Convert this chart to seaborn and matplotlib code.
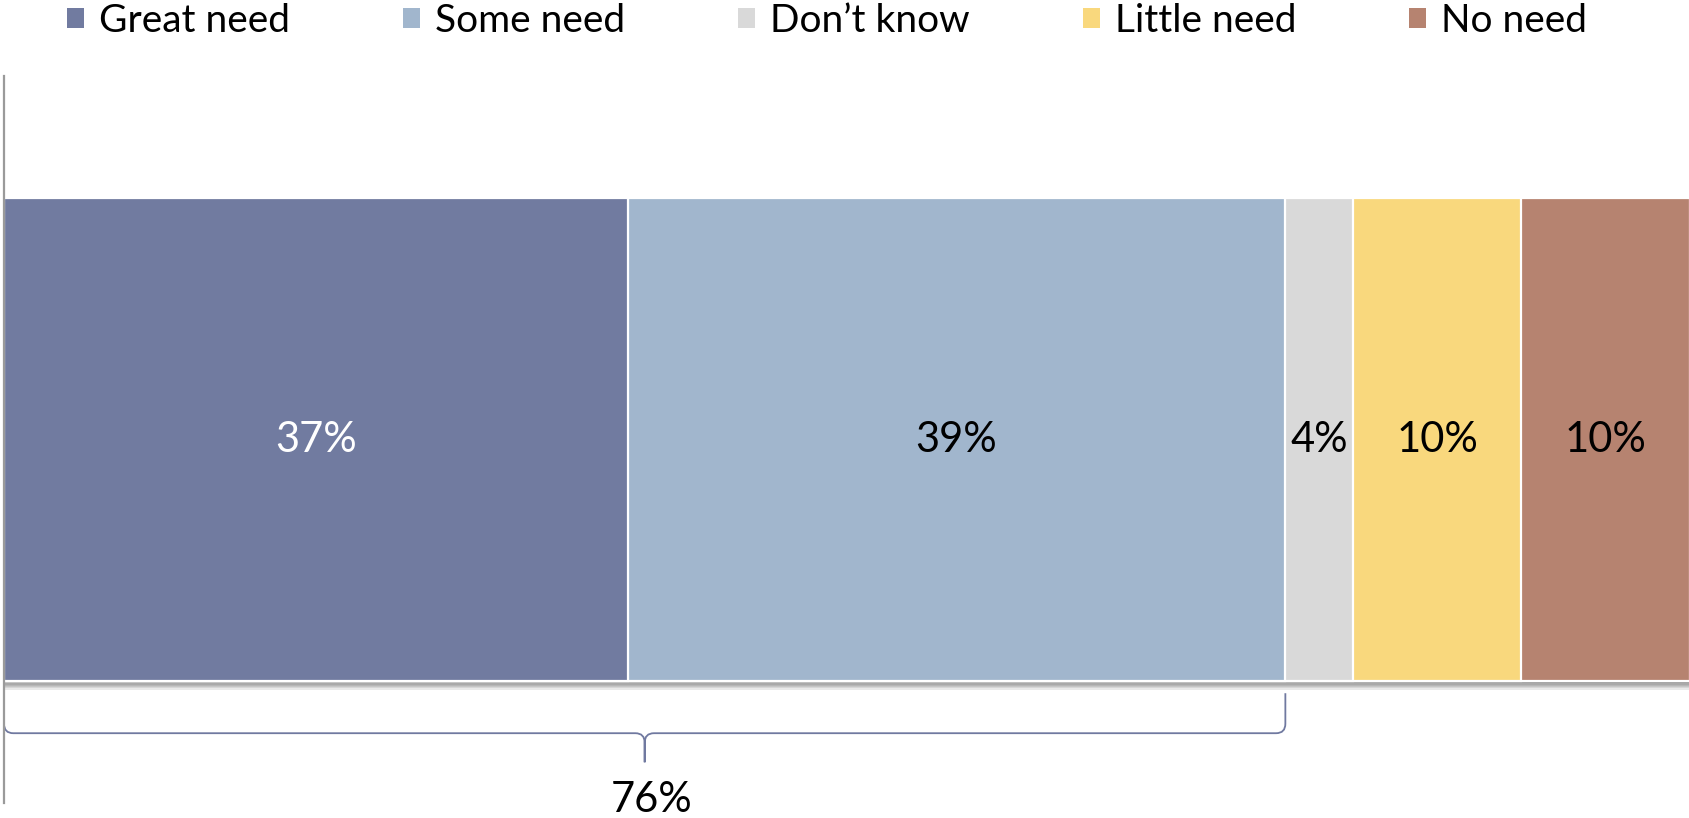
import numpy as np
import pandas as pd
import matplotlib
matplotlib.use("Agg")
import matplotlib.pyplot as plt
import matplotlib.patheffects as pe
from matplotlib.patches import Patch, PathPatch
from matplotlib.path import Path
from matplotlib.transforms import blended_transform_factory
import seaborn as sns

# Survey responses (percent of respondents)
categories = ["Great need", "Some need", "Don't know", "Little need", "No need"]
values = [37, 39, 4, 10, 10]
colors = ["#717BA0", "#A1B6CD", "#D9D9D9", "#F9D87D", "#B68370"]
label_colors = ["white", "black", "black", "black", "black"]
legend_labels = ["Great need", "Some need", "Don\u2019t know", "Little need", "No need"]
need_total_label = "76%"

sns.set_theme(style="white")
plt.rcParams["font.family"] = ["Lato", "DejaVu Sans"]
plt.rcParams["text.color"] = "black"

W, H = 1690, 818
fig = plt.figure(figsize=(W / 100, H / 100), dpi=100)
ax = fig.add_axes([4 / W, 1 - 803 / H, 1 - 4 / W, 727 / H])

# Stacked bar: draw cumulative totals from largest to smallest so each
# segment shows through on the right of the one drawn after it.
cum = np.cumsum(values)
starts = cum - np.array(values)
bar_h = 0.664
for i in range(len(values) - 1, -1, -1):
    df = pd.DataFrame({"row": ["all"], "pct": [cum[i]]})
    sns.barplot(data=df, x="pct", y="row", orient="h", color=colors[i],
                saturation=1, width=bar_h, edgecolor="white", linewidth=1.6,
                ax=ax)

# soft drop shadow under the full bar
shadow = [pe.SimplePatchShadow(offset=(0, -k * 0.9), shadow_rgbFace="#505050",
                               alpha=0.12) for k in range(1, 8)]
ax.patches[0].set_path_effects(shadow + [pe.Normal()])

ax.set_xlim(0, 100)
ax.set_ylim(0.5, -0.5)
ax.set_xlabel("")
ax.set_ylabel("")
ax.set_xticks([])
ax.set_yticks([])
for s in ["top", "right", "bottom"]:
    ax.spines[s].set_visible(False)
ax.spines["left"].set_color("#9A9A9A")
ax.spines["left"].set_linewidth(1.6)

# segment labels
for st, v, tc in zip(starts, values, label_colors):
    ax.text(st + v / 2, 0, f"{v}%", ha="center", va="center",
            fontsize=30, color=tc)

# brace spanning "Great need" + "Some need"
trans = blended_transform_factory(ax.transData, ax.transAxes)
x0, x1 = 0.0, float(cum[1])
xm = (x0 + x1) / 2
y0, y1, y2 = 0.151, 0.096, 0.056
rx, ry = 0.55, 0.013
verts = [
    (x0, y0), (x0, y1 + ry), (x0, y1), (x0 + rx, y1),
    (xm - rx, y1), (xm, y1), (xm, y1 - ry), (xm, y2),
    (xm, y2), (xm, y1 - ry), (xm, y1), (xm + rx, y1),
    (x1 - rx, y1), (x1, y1), (x1, y1 + ry), (x1, y0),
]
codes = [
    Path.MOVETO, Path.LINETO, Path.CURVE3, Path.CURVE3,
    Path.LINETO, Path.CURVE3, Path.CURVE3, Path.LINETO,
    Path.MOVETO, Path.LINETO, Path.CURVE3, Path.CURVE3,
    Path.LINETO, Path.CURVE3, Path.CURVE3, Path.LINETO,
]
ax.add_patch(PathPatch(Path(verts, codes), transform=trans, fill=False,
                       edgecolor="#7079A0", linewidth=1.3, clip_on=False))
ax.text(xm + 0.4, 0.004, need_total_label, transform=trans, ha="center",
        va="center", fontsize=30, color="black", clip_on=False)

# legend across the top
handles = [Patch(facecolor=c, edgecolor="none") for c in colors]
fs = 28
fs_px = fs * 100 / 72
fig.legend(handles, legend_labels, loc="center left",
           bbox_to_anchor=(67 / W, 1 - 21 / H), ncol=5, frameon=False,
           fontsize=fs, labelcolor="black",
           handlelength=17 / fs_px, handleheight=17 / fs_px,
           handletextpad=15 / fs_px, columnspacing=113 / fs_px,
           borderpad=0, borderaxespad=0)

fig.savefig("out.png", dpi=100, facecolor="white")
